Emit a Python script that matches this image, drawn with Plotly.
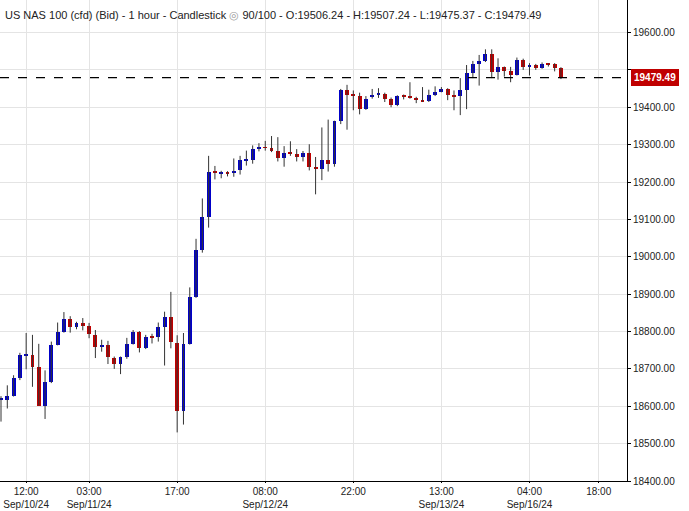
import plotly.graph_objects as go

# hourly candles, index 0..89
opens = [18618, 18618, 18628, 18676, 18737, 18737, 18705, 18602, 18664, 18765,
         18799, 18833, 18813, 18823, 18815, 18791, 18758, 18765, 18730, 18713,
         18731, 18767, 18799, 18755, 18785, 18784, 18813, 18839, 18770, 18586,
         18767, 18892, 19018, 19106, 19226, 19223, 19226, 19225, 19231, 19258,
         19260, 19289, 19293, 19291, 19283, 19263, 19278, 19275, 19267, 19278,
         19238, 19236, 19259, 19247, 19362, 19447, 19433, 19430, 19395, 19428,
         19435, 19435, 19422, 19405, 19430, 19428, 19425, 19420, 19416, 19434,
         19442, 19449, 19433, 19429, 19447, 19492, 19517, 19523, 19542, 19495,
         19507, 19497, 19487, 19526, 19508, 19513, 19505, 19518, 19515, 19506.24]
highs = [18627, 18656, 18683, 18743, 18796, 18791, 18767, 18696, 18773, 18824,
         18852, 18841, 18826, 18836, 18823, 18804, 18778, 18775, 18733, 18733,
         18783, 18804, 18801, 18791, 18794, 18824, 18853, 18906, 18790, 18796,
         18918, 19048, 19156, 19270, 19243, 19230, 19229, 19263, 19270, 19284,
         19298, 19304, 19310, 19323, 19320, 19296, 19309, 19288, 19283, 19301,
         19267, 19346, 19367, 19364, 19449, 19460, 19445, 19439, 19430, 19449,
         19451, 19439, 19426, 19432, 19434, 19467, 19428, 19454, 19447, 19456,
         19454, 19451, 19445, 19478, 19513, 19524, 19540, 19555, 19555, 19531,
         19509, 19508, 19533, 19530, 19518, 19516, 19520, 19518, 19518, 19507.24]
lows = [18559, 18594, 18626, 18670, 18699, 18652, 18602, 18566, 18662, 18763,
        18797, 18797, 18806, 18803, 18782, 18729, 18746, 18713, 18700, 18686,
        18727, 18765, 18744, 18753, 18768, 18773, 18709, 18755, 18530, 18551,
        18765, 18890, 19011, 19078, 19207, 19210, 19215, 19214, 19220, 19244,
        19249, 19282, 19284, 19280, 19255, 19241, 19270, 19255, 19255, 19231,
        19167, 19205, 19228, 19241, 19355, 19340, 19392, 19381, 19393, 19423,
        19425, 19414, 19400, 19403, 19421, 19423, 19411, 19414, 19414, 19430,
        19440, 19419, 19392, 19379, 19395, 19478, 19458, 19521, 19478, 19474,
        19482, 19467, 19485, 19500, 19485, 19500, 19503, 19509, 19496, 19475.37]
closes = [18618, 18627, 18676, 18736, 18738, 18705, 18602, 18664, 18765, 18799,
          18833, 18813, 18824, 18816, 18792, 18758, 18765, 18731, 18713, 18731,
          18767, 18799, 18755, 18786, 18784, 18812, 18839, 18771, 18586, 18767,
          18892, 19018, 19106, 19227, 19225, 19225, 19223, 19230, 19259, 19260,
          19288, 19293, 19291, 19283, 19263, 19278, 19276, 19268, 19278, 19240,
          19237, 19259, 19247, 19362, 19447, 19434, 19432, 19395, 19423, 19433,
          19436, 19423, 19405, 19430, 19429, 19426, 19420, 19416, 19432, 19441,
          19449, 19434, 19429, 19447, 19492, 19515, 19523, 19542, 19495, 19507,
          19498, 19487, 19526, 19508, 19513, 19505, 19517, 19515, 19506, 19479.49]

tick_idx = [4, 14, 28, 42, 56, 70, 84, 95]
tick_text = ['12:00<br>Sep/10/24', '03:00<br>Sep/11/24', '17:00', '08:00<br>Sep/12/24',
             '22:00', '13:00<br>Sep/13/24', '04:00<br>Sep/16/24', '18:00']
y_ticks = list(range(18400, 19700, 100))
last_price = 19479.49

idx = list(range(len(opens)))
wx, wy = [], []
for i in idx:
    wx += [i, i, None]
    wy += [lows[i], highs[i], None]

up_col, down_col = '#0000C8', '#C00000'
cols = [up_col if c >= o else down_col for o, c in zip(opens, closes)]
base = [min(o, c) for o, c in zip(opens, closes)]
height = [max(abs(c - o), 2.5) for o, c in zip(opens, closes)]

# the 19500 label sits under the last-price box in the original
y_text = ['' if v == 19500 else '%.2f' % v for v in y_ticks]

fig = go.Figure()
fig.add_trace(go.Scatter(x=wx, y=wy, mode='lines', line=dict(color='#333333', width=1),
                         hoverinfo='skip', showlegend=False))
fig.add_trace(go.Bar(x=idx, y=height, base=base, marker=dict(color=cols, line_width=0),
                     width=0.62, showlegend=False))
fig.add_hline(y=last_price, line=dict(color='black', width=1.2, dash='dash'))

fig.update_layout(
    width=689, height=511, plot_bgcolor='white', paper_bgcolor='white',
    margin=dict(l=0, r=62, t=0, b=30, autoexpand=False),
    font=dict(family='Arial, Liberation Sans', size=10, color='#222'),
    bargap=0,
    xaxis=dict(range=[-0.16, 99.5], tickvals=tick_idx, ticktext=tick_text,
               showgrid=True, gridcolor='#e4e4e4', zeroline=False,
               showline=True, linecolor='black', ticks='outside', ticklen=1,
               tickcolor='black', tickfont=dict(size=10)),
    yaxis=dict(side='right', range=[18400, 19687], tickvals=y_ticks,
               ticktext=y_text, showgrid=True,
               gridcolor='#e4e4e4', zeroline=False, showline=True,
               linecolor='black', ticks='outside', ticklen=3, tickcolor='black',
               tickfont=dict(size=10)),
    annotations=[
        dict(x=0.005, y=0.985, xref='paper', yref='paper', xanchor='left', yanchor='top',
             showarrow=False, font=dict(size=11, color='#222'),
             text='US NAS 100 (cfd) (Bid) - 1 hour - Candlestick <span style="color:#999">◎</span> 90/100 - O:19506.24 - H:19507.24 - L:19475.37 - C:19479.49'),
        dict(x=1, y=last_price, xref='paper', yref='y', xanchor='left', yanchor='middle',
             showarrow=False, text='<b>19479.49</b>', font=dict(size=10, color='white'),
             bgcolor='#C00000', bordercolor='#C00000', borderpad=2, xshift=4),
    ],
)

fig.write_html("out.html", config={'displayModeBar': False},
               post_script="document.body.style.margin='0';document.body.style.overflow='hidden';")
